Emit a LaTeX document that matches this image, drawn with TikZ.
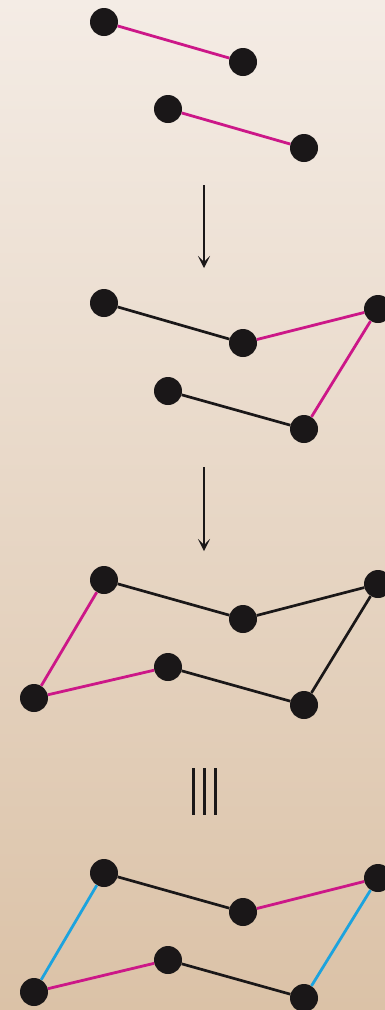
\documentclass[tikz,border=0pt]{standalone}
\usetikzlibrary{arrows.meta}

\definecolor{bgtop}{HTML}{F4ECE5}
\definecolor{bgbot}{HTML}{DBC2A7}
\definecolor{bond}{HTML}{1A1718}
\definecolor{newbond}{HTML}{CC1788}
\definecolor{swapbond}{HTML}{1CA3DE}

\tikzset{
  atom/.style={circle,fill=bond,inner sep=0pt,minimum size=28pt},
  old/.style={draw=bond,line width=2.7pt},
  new/.style={draw=newbond,line width=2.8pt},
  swap/.style={draw=swapbond,line width=2.8pt},
  step arrow/.style={bond,line width=1.8pt,-{Stealth[length=12pt,width=12pt,inset=6pt]}},
}

\begin{document}
\begin{tikzpicture}[x=1pt,y=-1pt]
        \useasboundingbox (0,0) rectangle (385,1010);
        \clip (0,0) rectangle (385,1010);
        \shade[top color=bgtop,bottom color=bgbot] (0,0) rectangle (385,1010);
        % first row: two separate bonds
        \node[atom] (a1) at (104,22) {};
        \node[atom] (b1) at (243,62) {};
        \node[atom] (c1) at (168,109) {};
        \node[atom] (d1) at (304,148) {};
        \draw[new] (a1) -- (b1);
        \draw[new] (c1) -- (d1);
        \coordinate (s1) at (204,185);
        \coordinate (t1) at (204,268);
        \draw[step arrow] (s1) -- (t1);
        % second row
        \node[atom] (a2) at (104,303) {};
        \node[atom] (b2) at (243,343) {};
        \node[atom] (e2) at (378,309) {};
        \node[atom] (c2) at (168,391) {};
        \node[atom] (d2) at (304,429) {};
        \draw[old] (a2) -- (b2);
        \draw[old] (c2) -- (d2);
        \draw[new] (b2) -- (e2) -- (d2);
        \coordinate (s2) at (204,467);
        \coordinate (t2) at (204,551);
        \draw[step arrow] (s2) -- (t2);
        % third row
        \node[atom] (a3) at (104,580) {};
        \node[atom] (b3) at (243,619) {};
        \node[atom] (e3) at (378,584) {};
        \node[atom] (f3) at (34,698) {};
        \node[atom] (c3) at (168,667) {};
        \node[atom] (d3) at (304,705) {};
        \draw[old] (a3) -- (b3) -- (e3) -- (d3) -- (c3);
        \draw[new] (a3) -- (f3) -- (c3);
        % equivalence sign
        \foreach \x in {193,204,215}
            \draw[line width=3pt,bond] (\x,768) -- (\x,815);
        % fourth row
        \node[atom] (a4) at (104,873) {};
        \node[atom] (b4) at (243,912) {};
        \node[atom] (e4) at (378,878) {};
        \node[atom] (f4) at (34,992) {};
        \node[atom] (c4) at (168,960) {};
        \node[atom] (d4) at (304,998) {};
        \draw[old] (a4) -- (b4);
        \draw[old] (c4) -- (d4);
        \draw[new] (b4) -- (e4);
        \draw[new] (f4) -- (c4);
        \draw[swap] (a4) -- (f4);
        \draw[swap] (e4) -- (d4);
    \end{tikzpicture}
\end{document}
